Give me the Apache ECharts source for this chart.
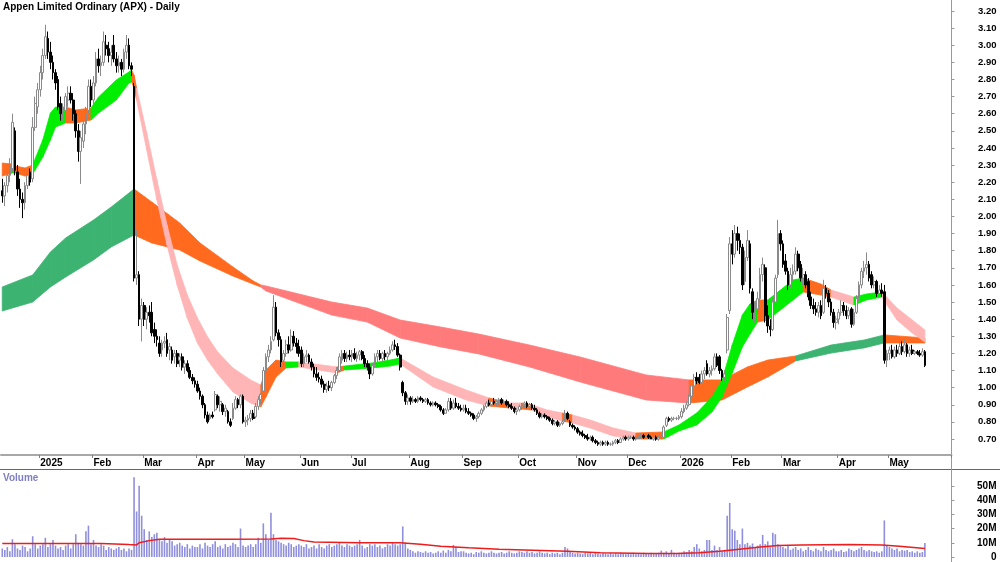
<!DOCTYPE html>
<html>
<head>
<meta charset="utf-8">
<script src="https://cdn.jsdelivr.net/npm/echarts@6/dist/echarts.min.js"></script>
<style>
  html, body { margin: 0; padding: 0; background: #fff; }
  #chart { width: 1000px; height: 562px; }
</style>
</head>
<body>
<div id="chart"></div>
<script>
// daily bars per month, [open, high, low, close]
const dec24 = [[2.15,2.22,2.08,2.12],[2.12,2.20,2.06,2.18],[2.18,2.28,2.14,2.24],[2.24,2.34,2.20,2.30],[2.28,2.60,2.26,2.55],[2.50,2.52,2.24,2.27],[2.26,2.30,2.12,2.16],[2.16,2.22,2.05,2.10],[2.10,2.14,1.99,2.08],[2.08,2.20,2.04,2.18],[2.18,2.28,2.16,2.24],[2.26,2.28,2.18,2.20],[2.22,2.58,2.20,2.52],[2.52,2.70,2.50,2.66],[2.64,2.78,2.60,2.74]];
const jan25 = [[2.74,2.88,2.70,2.84],[2.84,2.98,2.80,2.94],[2.94,3.12,2.92,3.05],[3.04,3.08,2.92,2.96],[2.96,3.02,2.86,2.90],[2.90,2.94,2.80,2.84],[2.84,2.86,2.74,2.78],[2.80,2.82,2.62,2.64],[2.66,2.70,2.56,2.60],[2.60,2.66,2.56,2.62],[2.62,2.72,2.60,2.70],[2.68,2.76,2.64,2.72],[2.72,2.76,2.66,2.68],[2.68,2.72,2.56,2.60],[2.60,2.62,2.46,2.50],[2.50,2.54,2.32,2.38],[2.38,2.50,2.19,2.46],[2.44,2.58,2.40,2.54],[2.54,2.64,2.48,2.60],[2.62,2.80,2.60,2.76],[2.76,2.80,2.64,2.68]];
const feb25 = [[2.68,2.82,2.64,2.78],[2.78,2.96,2.76,2.92],[2.92,2.98,2.84,2.88],[2.88,2.94,2.82,2.90],[2.90,3.08,2.88,3.02],[3.00,3.06,2.94,2.98],[2.98,3.02,2.90,2.94],[2.94,3.00,2.88,2.96],[3.00,3.06,2.90,2.92],[2.92,2.96,2.84,2.88],[2.88,2.94,2.84,2.90],[2.90,2.92,2.82,2.86],[2.86,2.98,2.84,2.96],[2.96,3.06,2.92,3.00],[3.00,3.04,2.86,2.88],[2.88,2.90,2.82,2.86],[2.76,2.78,1.62,1.64],[1.64,1.92,1.60,1.66],[1.66,1.68,1.36,1.40],[1.40,1.52,1.27,1.48]];
const mar25 = [[1.48,1.50,1.36,1.40],[1.40,1.47,1.34,1.44],[1.44,1.48,1.38,1.42],[1.44,1.50,1.30,1.32],[1.34,1.38,1.26,1.30],[1.30,1.34,1.24,1.28],[1.26,1.30,1.18,1.20],[1.22,1.28,1.18,1.26],[1.26,1.30,1.23,1.27],[1.28,1.32,1.18,1.20],[1.22,1.26,1.16,1.24],[1.22,1.24,1.14,1.16],[1.18,1.22,1.14,1.20],[1.20,1.22,1.12,1.14],[1.16,1.20,1.12,1.18],[1.18,1.20,1.10,1.12],[1.12,1.16,1.08,1.14],[1.14,1.16,1.09,1.10],[1.10,1.12,1.05,1.06],[1.06,1.08,1.02,1.04],[1.04,1.06,1.00,1.02]];
const apr25 = [[1.02,1.04,0.97,0.98],[0.98,1.00,0.93,0.95],[0.95,0.96,0.88,0.90],[0.90,0.91,0.82,0.84],[0.84,0.86,0.79,0.80],[0.82,0.85,0.81,0.84],[0.84,0.86,0.82,0.83],[0.87,0.98,0.86,0.96],[0.95,0.96,0.88,0.90],[0.90,0.95,0.86,0.92],[0.90,0.91,0.84,0.86],[0.86,0.90,0.83,0.88],[0.86,0.87,0.79,0.80],[0.80,0.82,0.77,0.78],[0.82,0.91,0.81,0.88],[0.88,0.95,0.87,0.93],[0.93,0.94,0.88,0.90],[0.90,0.96,0.88,0.95],[0.95,0.96,0.79,0.80]];
const may25 = [[0.80,0.83,0.77,0.81],[0.81,0.84,0.78,0.82],[0.82,0.87,0.80,0.85],[0.85,0.87,0.81,0.82],[0.83,0.91,0.82,0.89],[0.89,0.95,0.87,0.93],[0.93,0.97,0.90,0.96],[0.98,1.12,0.97,1.10],[1.10,1.20,1.08,1.18],[1.18,1.25,1.15,1.22],[1.22,1.30,1.20,1.27],[1.28,1.54,1.27,1.47],[1.47,1.50,1.30,1.32],[1.32,1.34,1.24,1.28],[1.28,1.30,1.12,1.15],[1.16,1.22,1.13,1.20],[1.20,1.28,1.18,1.25],[1.25,1.30,1.20,1.22],[1.22,1.34,1.21,1.30],[1.30,1.33,1.24,1.26],[1.26,1.29,1.20,1.24],[1.24,1.28,1.18,1.20]];
const jun25 = [[1.22,1.24,1.12,1.14],[1.14,1.20,1.12,1.18],[1.18,1.22,1.15,1.19],[1.19,1.20,1.14,1.15],[1.15,1.17,1.10,1.12],[1.12,1.14,1.06,1.08],[1.08,1.12,1.04,1.06],[1.06,1.09,1.03,1.05],[1.05,1.07,1.00,1.02],[1.02,1.04,0.97,0.99],[0.99,1.03,0.97,1.01],[1.01,1.04,0.98,1.00],[1.00,1.04,0.98,1.03],[1.03,1.08,1.02,1.07],[1.07,1.12,1.05,1.10],[1.10,1.20,1.09,1.18],[1.16,1.22,1.14,1.20],[1.20,1.22,1.15,1.17],[1.17,1.21,1.15,1.19],[1.19,1.22,1.16,1.18]];
const jul25 = [[1.18,1.22,1.15,1.20],[1.20,1.23,1.16,1.17],[1.17,1.21,1.15,1.19],[1.19,1.22,1.16,1.21],[1.21,1.22,1.16,1.17],[1.17,1.19,1.12,1.14],[1.14,1.16,1.10,1.12],[1.12,1.14,1.05,1.08],[1.08,1.14,1.07,1.13],[1.13,1.20,1.12,1.18],[1.18,1.22,1.15,1.20],[1.20,1.22,1.16,1.17],[1.17,1.21,1.15,1.20],[1.20,1.22,1.16,1.18],[1.18,1.21,1.16,1.20],[1.20,1.24,1.19,1.22],[1.22,1.27,1.21,1.25],[1.25,1.28,1.22,1.24],[1.24,1.26,1.18,1.19],[1.19,1.20,1.10,1.12],[1.03,1.04,0.95,0.97],[0.97,0.98,0.90,0.92],[0.92,0.96,0.90,0.94]];
const aug25 = [[0.94,0.95,0.90,0.92],[0.92,0.95,0.91,0.93],[0.93,0.94,0.91,0.92],[0.92,0.95,0.91,0.94],[0.94,0.95,0.92,0.93],[0.93,0.94,0.91,0.92],[0.92,0.94,0.91,0.93],[0.93,0.94,0.90,0.91],[0.91,0.92,0.89,0.90],[0.90,0.92,0.89,0.91],[0.91,0.92,0.89,0.90],[0.90,0.91,0.88,0.89],[0.89,0.90,0.86,0.87],[0.87,0.88,0.84,0.85],[0.85,0.88,0.85,0.87],[0.87,0.94,0.86,0.92],[0.92,0.94,0.87,0.88],[0.88,0.93,0.87,0.91],[0.91,0.94,0.88,0.89],[0.89,0.91,0.87,0.88],[0.88,0.90,0.86,0.87]];
const sep25 = [[0.87,0.90,0.86,0.88],[0.88,0.90,0.85,0.86],[0.86,0.88,0.84,0.85],[0.85,0.86,0.83,0.84],[0.84,0.85,0.81,0.82],[0.82,0.84,0.80,0.83],[0.83,0.86,0.82,0.85],[0.85,0.88,0.84,0.87],[0.87,0.90,0.86,0.89],[0.89,0.92,0.88,0.91],[0.91,0.93,0.89,0.90],[0.90,0.93,0.89,0.92],[0.92,0.94,0.90,0.91],[0.91,0.93,0.89,0.92],[0.92,0.94,0.90,0.93],[0.93,0.94,0.90,0.91],[0.91,0.93,0.89,0.92],[0.92,0.93,0.89,0.90],[0.90,0.92,0.88,0.89],[0.89,0.91,0.87,0.88],[0.88,0.89,0.85,0.86],[0.86,0.88,0.84,0.87]];
const oct25 = [[0.87,0.90,0.86,0.89],[0.89,0.91,0.87,0.90],[0.90,0.92,0.88,0.91],[0.91,0.92,0.88,0.89],[0.89,0.91,0.87,0.90],[0.90,0.91,0.87,0.88],[0.88,0.90,0.86,0.87],[0.87,0.88,0.84,0.85],[0.85,0.86,0.82,0.83],[0.83,0.85,0.82,0.84],[0.84,0.85,0.82,0.83],[0.83,0.84,0.81,0.82],[0.82,0.83,0.80,0.81],[0.81,0.82,0.78,0.79],[0.79,0.81,0.78,0.80],[0.80,0.81,0.77,0.78],[0.78,0.80,0.77,0.79],[0.79,0.81,0.78,0.80],[0.80,0.87,0.80,0.85],[0.85,0.86,0.81,0.82],[0.80,0.81,0.77,0.78],[0.78,0.79,0.76,0.77],[0.77,0.78,0.75,0.76]];
const nov25 = [[0.76,0.77,0.73,0.74],[0.74,0.75,0.72,0.73],[0.73,0.75,0.71,0.72],[0.72,0.73,0.70,0.71],[0.71,0.73,0.69,0.70],[0.70,0.72,0.69,0.71],[0.71,0.72,0.68,0.69],[0.69,0.70,0.67,0.68],[0.68,0.69,0.66,0.67],[0.67,0.69,0.66,0.68],[0.68,0.69,0.66,0.67],[0.67,0.69,0.66,0.68],[0.68,0.69,0.66,0.67],[0.67,0.68,0.66,0.67],[0.67,0.69,0.66,0.68],[0.68,0.70,0.67,0.69],[0.69,0.70,0.67,0.68],[0.68,0.71,0.68,0.70],[0.70,0.72,0.69,0.71],[0.71,0.72,0.69,0.70]];
const dec25 = [[0.70,0.72,0.69,0.71],[0.71,0.72,0.70,0.71],[0.71,0.72,0.69,0.70],[0.70,0.72,0.69,0.71],[0.71,0.72,0.70,0.71],[0.71,0.73,0.70,0.72],[0.72,0.73,0.70,0.71],[0.71,0.73,0.70,0.72],[0.72,0.73,0.70,0.71],[0.71,0.72,0.70,0.70],[0.70,0.72,0.69,0.71],[0.71,0.72,0.69,0.70],[0.70,0.72,0.69,0.71],[0.71,0.72,0.70,0.71],[0.71,0.78,0.71,0.77],[0.78,0.83,0.77,0.82],[0.82,0.83,0.80,0.81],[0.81,0.83,0.80,0.82],[0.82,0.83,0.81,0.82],[0.82,0.83,0.81,0.82],[0.82,0.84,0.81,0.83]];
const jan26 = [[0.83,0.88,0.82,0.86],[0.86,0.90,0.85,0.88],[0.88,0.92,0.87,0.90],[0.90,0.96,0.89,0.95],[0.95,1.03,0.94,1.01],[1.01,1.08,1.00,1.06],[1.06,1.09,1.02,1.04],[1.06,1.08,1.02,1.03],[1.03,1.10,1.02,1.08],[1.08,1.12,1.05,1.10],[1.14,1.16,1.07,1.08],[1.08,1.12,1.06,1.10],[1.10,1.13,1.07,1.11],[1.11,1.20,1.10,1.18],[1.18,1.20,1.12,1.13],[1.18,1.19,1.08,1.10],[1.10,1.11,1.04,1.06],[1.06,1.10,1.04,1.08],[1.22,1.43,1.20,1.41],[1.45,1.88,1.43,1.84]];
const feb26 = [[1.84,1.92,1.72,1.78],[1.78,1.95,1.76,1.90],[1.90,1.94,1.80,1.86],[1.86,1.90,1.78,1.82],[1.82,1.84,1.57,1.60],[1.62,1.80,1.60,1.76],[1.76,1.92,1.74,1.86],[1.84,1.86,1.55,1.58],[1.56,1.58,1.40,1.44],[1.44,1.50,1.38,1.46],[1.46,1.56,1.43,1.52],[1.52,1.70,1.50,1.66],[1.66,1.76,1.62,1.72],[1.70,1.72,1.38,1.42],[1.42,1.48,1.32,1.36],[1.36,1.40,1.30,1.34],[1.34,1.52,1.33,1.50],[1.50,1.66,1.48,1.64],[1.66,1.98,1.64,1.90],[1.90,1.92,1.80,1.84]];
const mar26 = [[1.84,1.86,1.70,1.72],[1.74,1.78,1.66,1.68],[1.68,1.70,1.57,1.60],[1.60,1.70,1.58,1.66],[1.66,1.72,1.62,1.68],[1.68,1.82,1.66,1.78],[1.78,1.80,1.68,1.70],[1.72,1.74,1.62,1.64],[1.64,1.70,1.60,1.66],[1.66,1.68,1.58,1.60],[1.62,1.64,1.51,1.53],[1.53,1.56,1.46,1.48],[1.48,1.52,1.43,1.46],[1.46,1.50,1.42,1.44],[1.44,1.50,1.41,1.48],[1.48,1.51,1.40,1.42],[1.44,1.63,1.43,1.58],[1.58,1.60,1.52,1.55],[1.55,1.57,1.47,1.50],[1.50,1.52,1.42,1.44],[1.44,1.46,1.35,1.38],[1.38,1.42,1.34,1.40]];
const apr26 = [[1.40,1.46,1.37,1.44],[1.44,1.51,1.42,1.48],[1.48,1.50,1.42,1.45],[1.45,1.48,1.40,1.42],[1.42,1.47,1.40,1.45],[1.46,1.47,1.35,1.37],[1.37,1.46,1.36,1.44],[1.44,1.54,1.43,1.52],[1.52,1.62,1.50,1.60],[1.60,1.70,1.58,1.68],[1.68,1.74,1.64,1.70],[1.70,1.79,1.66,1.72],[1.72,1.74,1.62,1.64],[1.66,1.68,1.58,1.60],[1.60,1.65,1.58,1.62],[1.62,1.63,1.53,1.55],[1.55,1.60,1.53,1.57],[1.57,1.61,1.53,1.55],[1.56,1.60,1.14,1.16],[1.16,1.22,1.12,1.20]];
const may26 = [[1.20,1.24,1.16,1.22],[1.22,1.25,1.17,1.18],[1.18,1.24,1.17,1.22],[1.22,1.25,1.18,1.20],[1.20,1.26,1.19,1.24],[1.24,1.27,1.19,1.21],[1.21,1.28,1.20,1.25],[1.25,1.26,1.18,1.20],[1.20,1.24,1.18,1.22],[1.22,1.25,1.19,1.20],[1.20,1.22,1.19,1.21],[1.21,1.22,1.19,1.20],[1.20,1.22,1.18,1.19],[1.19,1.23,1.18,1.21],[1.21,1.22,1.12,1.13]];

const monthBars = [dec24, jan25, feb25, mar25, apr25, may25, jun25, jul25, aug25, sep25, oct25, nov25, dec25, jan26, feb26, mar26, apr26, may26];
const monthNames = ['', '2025', 'Feb', 'Mar', 'Apr', 'May', 'Jun', 'Jul', 'Aug', 'Sep', 'Oct', 'Nov', 'Dec', '2026', 'Feb', 'Mar', 'Apr', 'May'];

// volume per month, millions of shares
const volDec24 = [6, 5, 7, 4, 12.5, 9, 6, 5, 8, 7, 4, 6, 14.6, 9, 6];
const volJan25 = [8, 9, 13.5, 7, 9, 12, 8, 6, 7, 5, 8, 9, 6, 9, 16, 10, 9, 8, 18, 22, 9];
const volFeb25 = [12, 8, 7, 9, 8, 5, 7, 6, 5, 6, 7, 5, 6, 4, 6, 5, 56, 32, 50, 29];
const volMar25 = [19.5, 12, 18, 14, 16, 17, 12, 11, 14, 10, 12, 11, 8, 9, 10, 8, 7, 9, 6, 8, 7];
const volApr25 = [7, 9, 6, 10, 8, 7, 9, 11, 7, 8, 6, 9, 7, 8, 10, 9, 7, 20, 8];
const volMay25 = [7, 8, 9, 7, 9, 13.5, 10, 23.6, 16, 12, 31, 16, 12, 11, 10, 9, 8, 10, 9, 7, 8, 9];
const volJun25 = [8, 7, 9, 6, 7, 8, 6, 9, 7, 6, 8, 9, 7, 8, 9, 10, 8, 7, 9, 8];
const volJul25 = [7, 8, 9, 12, 8, 6, 7, 9, 8, 9, 7, 8, 6, 7, 9, 8, 10, 9, 8, 9, 21.5, 10, 6];
const volAug25 = [5, 4, 3, 4, 3.5, 3, 4, 3, 3.5, 2.5, 3, 4, 3, 4.5, 3, 5, 4, 8.5, 7, 3.5, 4];
const volSep25 = [4, 3, 2.5, 3, 2, 3.5, 3, 4, 3, 2.5, 3, 4, 3, 2.5, 3, 3.5, 2.5, 3, 4, 3, 2.5, 3];
const volOct25 = [4, 3.5, 3, 4, 3, 3.5, 2.5, 3, 4, 3, 2.5, 3, 2, 3, 2.5, 3, 2, 3, 7, 6, 4, 3, 2.5];
const volNov25 = [3, 2.5, 2, 3, 2.5, 3.5, 2, 3, 2.5, 2, 3, 2.5, 2, 3, 2, 2.5, 2, 3, 2.5, 2];
const volDec25 = [2.5, 2, 3, 2, 2.5, 2, 3, 2.5, 2, 3, 2, 2.5, 3, 4.5, 3, 4, 2.5, 5, 3, 2, 3];
const volJan26 = [3, 4, 3.5, 5, 4, 7, 9, 6, 4, 5, 12, 12, 5, 8, 5, 7, 4, 5, 29, 38];
const volFeb26 = [19.5, 18.5, 12, 9, 20, 9, 10, 8, 9.5, 7, 8, 9, 15.5, 9, 11, 7, 17, 16, 9, 8];
const volMar26 = [7, 6, 8, 5, 6, 7, 5, 6, 4, 5, 7, 5, 4, 6, 5, 4, 7, 5, 4, 5, 6, 4];
const volApr26 = [4, 5, 3.5, 4, 6, 5, 4, 5, 6, 7, 5, 4, 5, 4, 3.5, 4, 3, 4, 25.7, 8];
const volMay26 = [7, 6, 5, 6, 4, 5, 4.5, 5, 3.5, 4, 3, 4, 3, 3.5, 9.8];

// trend ribbons: [bar index, upper, lower, state]
const shortRibbon = [
  [0, 2.312, 2.236, 'turn'], [4, 2.306, 2.254, 'up'], [5, 2.295, 2.254, 'turn'], [9, 2.283, 2.236, 'turn'],
  [12, 2.301, 2.248, 'up'], [16, 2.447, 2.347, 'up'], [19, 2.604, 2.447, 'up'], [21, 2.639, 2.522, 'up'],
  [25, 2.639, 2.546, 'turn'], [29, 2.622, 2.546, 'turn'], [35, 2.633, 2.563, 'up'], [38, 2.698, 2.604, 'up'],
  [45, 2.797, 2.680, 'up'], [50, 2.844, 2.780, 'up'], [51, 2.855, 2.785, 'turn'], [52, 2.826, 2.750, 'turn'],
  [53, 2.750, 2.680, 'down'], [57, 2.487, 2.388, 'down'], [61, 2.213, 2.096, 'down'], [65, 1.950, 1.833, 'down'],
  [69, 1.716, 1.600, 'down'], [73, 1.541, 1.407, 'down'], [77, 1.407, 1.261, 'down'], [81, 1.296, 1.161, 'down'],
  [85, 1.208, 1.080, 'down'], [91, 1.115, 0.975, 'down'], [98, 1.045, 0.910, 'down'], [102, 1.015, 0.887, 'turn'],
  [104, 1.103, 0.945, 'turn'], [108, 1.161, 1.062, 'turn'], [112, 1.150, 1.115, 'up'], [117, 1.150, 1.121, 'down'],
  [132, 1.121, 1.086, 'turn'], [135, 1.126, 1.103, 'up'], [146, 1.144, 1.115, 'up'], [153, 1.161, 1.126, 'up'],
  [157, 1.173, 1.138, 'down'], [170, 1.062, 1.004, 'down'], [183, 0.986, 0.928, 'down'], [192, 0.940, 0.893, 'turn'],
  [200, 0.910, 0.881, 'down'], [205, 0.910, 0.875, 'turn'], [209, 0.899, 0.869, 'down'], [215, 0.869, 0.829, 'down'],
  [221, 0.852, 0.805, 'turn'], [225, 0.840, 0.794, 'down'], [232, 0.811, 0.764, 'down'], [241, 0.764, 0.718, 'down'],
  [248, 0.741, 0.706, 'down'], [250, 0.735, 0.700, 'turn'], [261, 0.741, 0.700, 'up'], [267, 0.782, 0.747, 'up'],
  [274, 0.852, 0.782, 'up'], [280, 0.945, 0.858, 'up'], [284, 1.045, 0.945, 'up'], [288, 1.249, 1.086, 'up'],
  [292, 1.424, 1.238, 'up'], [295, 1.489, 1.313, 'up'], [298, 1.512, 1.383, 'turn'], [302, 1.512, 1.395, 'up'],
  [307, 1.570, 1.454, 'up'], [312, 1.629, 1.512, 'up'], [316, 1.640, 1.559, 'turn'], [323, 1.605, 1.541, 'turn'],
  [327, 1.570, 1.529, 'down'], [336, 1.529, 1.483, 'up'], [341, 1.547, 1.512, 'up'], [347, 1.559, 1.529, 'down'],
  [353, 1.465, 1.395, 'down'], [359, 1.395, 1.319, 'down'], [364, 1.337, 1.267, 'down']
];
const longRibbon = [
  [0, 1.588, 1.448, 'up'], [12, 1.658, 1.500, 'up'], [19, 1.792, 1.588, 'up'], [25, 1.874, 1.646, 'up'],
  [36, 1.979, 1.746, 'up'], [43, 2.055, 1.822, 'up'], [52, 2.160, 1.892, 'turn'], [59, 2.084, 1.845, 'turn'],
  [70, 1.962, 1.804, 'turn'], [78, 1.845, 1.740, 'turn'], [91, 1.705, 1.652, 'turn'], [99, 1.623, 1.605, 'turn'],
  [102, 1.600, 1.588, 'down'], [104, 1.594, 1.565, 'down'], [117, 1.547, 1.494, 'down'], [130, 1.500, 1.424, 'down'],
  [144, 1.465, 1.383, 'down'], [157, 1.395, 1.290, 'down'], [173, 1.354, 1.238, 'down'], [188, 1.313, 1.197, 'down'],
  [208, 1.249, 1.121, 'down'], [228, 1.179, 1.033, 'down'], [254, 1.074, 0.928, 'down'], [271, 1.045, 0.910, 'turn'],
  [284, 1.045, 0.928, 'turn'], [294, 1.121, 1.004, 'turn'], [302, 1.161, 1.062, 'turn'], [313, 1.185, 1.156, 'up'],
  [327, 1.249, 1.202, 'up'], [340, 1.278, 1.232, 'up'], [348, 1.308, 1.261, 'turn'], [364, 1.290, 1.261, 'turn']
];

// volume average line: [bar index, millions]
const volAvg = [[0, 9.5], [15, 9.5], [39, 9.5], [50, 8.7], [53, 8.5], [54, 10], [58, 11.5], [62, 12.5], [90, 12.5],
  [106, 12.6], [110, 13.2], [115, 13], [119, 11.5], [123, 10.5], [141, 10], [157, 10], [165, 9], [173, 7.5],
  [184, 6.5], [196, 5.5], [223, 4], [236, 3], [255, 2.5], [266, 2.5], [275, 3], [283, 4], [288, 5], [299, 7],
  [306, 8], [315, 8.5], [334, 8.8], [347, 8.5], [354, 7.5], [364, 6]];

const priceTicks = [0.7, 0.8, 0.9, 1.0, 1.1, 1.2, 1.3, 1.4, 1.5, 1.6, 1.7, 1.8, 1.9, 2.0, 2.1, 2.2, 2.3, 2.4, 2.5, 2.6, 2.7, 2.8, 2.9, 3.0, 3.1, 3.2];
const volTicks = [0, 10, 20, 30, 40, 50];

const SLOTS = 375; // bars plus empty space on the right
const FONT = "'Liberation Sans', Arial, sans-serif";

const bars = [].concat(...monthBars);
const volumes = [].concat(volDec24, volJan25, volFeb25, volMar25, volApr25, volMay25, volJun25, volJul25,
  volAug25, volSep25, volOct25, volNov25, volDec25, volJan26, volFeb26, volMar26, volApr26, volMay26);

const cats = [];
for (let i = 0; i < SLOTS; i++) cats.push(String(i));

// month start index -> label
const monthLabel = {};
let start = 0;
monthBars.forEach((m, k) => {
  if (monthNames[k]) monthLabel[start] = monthNames[k];
  start += m.length;
});
const isMonthStart = (i) => monthLabel[i] !== undefined;

const shortColors = { up: '#00ee00', turn: '#ff6a1f', down: '#ffb5b5' };
const longColors = { up: '#3cb371', turn: '#ff6a1f', down: '#ff7b7b' };

function ribbonSeries(samples, colors, z) {
  return {
    type: 'custom',
    xAxisIndex: 0,
    yAxisIndex: 0,
    z: z,
    silent: true,
    clip: true,
    data: samples.slice(0, -1).map((s, k) => [s[0], s[1], samples[k + 1][0], s[2]]),
    encode: { x: [0, 2], y: [1, 3] },
    renderItem: function (params, api) {
      const a = samples[params.dataIndex];
      const b = samples[params.dataIndex + 1];
      const pts = [
        api.coord([a[0], a[1]]), api.coord([b[0], b[1]]),
        api.coord([b[0], b[2]]), api.coord([a[0], a[2]])
      ];
      const c = colors[a[3]];
      return { type: 'polygon', shape: { points: pts }, style: { fill: c, stroke: c, lineWidth: 0.8 } };
    }
  };
}

const chart = echarts.init(document.getElementById('chart'), null, { renderer: 'canvas' });

chart.setOption({
  animation: false,
  backgroundColor: '#ffffff',
  grid: [
    { left: 1, right: 48.5, top: 0, height: 455 },
    { left: 1, right: 48.5, top: 470, height: 88 }
  ],
  xAxis: [
    {
      type: 'category', gridIndex: 0, data: cats, boundaryGap: true,
      axisLine: { show: true, lineStyle: { color: '#a8a8a8', width: 2 } },
      axisTick: { show: true, interval: (i) => isMonthStart(i), length: 3, lineStyle: { color: '#808080' } },
      axisLabel: {
        interval: (i) => isMonthStart(i),
        formatter: (v) => monthLabel[+v] || '',
        align: 'left', margin: 3,
        fontSize: 10, fontWeight: 'bold', fontFamily: FONT, color: '#000'
      },
      splitLine: { show: false }
    },
    {
      type: 'category', gridIndex: 1, data: cats, boundaryGap: true,
      axisLine: { show: false }, axisTick: { show: false }, axisLabel: { show: false }, splitLine: { show: false }
    }
  ],
  yAxis: [
    {
      type: 'value', gridIndex: 0, position: 'right', min: 0.6065, max: 3.2643,
      axisLine: { show: true, lineStyle: { color: '#999' } },
      axisTick: { show: true, customValues: priceTicks, length: 3, lineStyle: { color: '#999' } },
      axisLabel: {
        customValues: priceTicks, formatter: (v) => v.toFixed(2),
        align: 'right', margin: 45,
        fontSize: 9.5, fontWeight: 'bold', fontFamily: FONT, color: '#000'
      },
      splitLine: { show: false }
    },
    {
      type: 'value', gridIndex: 1, position: 'right', min: 0, max: 61.1,
      axisLine: { show: true, lineStyle: { color: '#999' } },
      axisTick: { show: true, customValues: volTicks, length: 3, lineStyle: { color: '#999' } },
      axisLabel: {
        customValues: volTicks, formatter: (v) => (v === 0 ? '0' : v + 'M'),
        align: 'right', margin: 45,
        fontSize: 10, fontWeight: 'bold', fontFamily: FONT, color: '#000'
      },
      splitLine: { show: false }
    }
  ],
  series: [
    ribbonSeries(longRibbon, longColors, 1),
    ribbonSeries(shortRibbon, shortColors, 2),
    {
      type: 'candlestick',
      xAxisIndex: 0, yAxisIndex: 0, z: 5,
      barWidth: 2.2,
      data: bars.map(b => [b[0], b[3], b[2], b[1]]),
      itemStyle: { color: '#ffffff', color0: '#000000', borderColor: '#8a8a8a', borderColor0: '#000000', borderWidth: 1 }
    },
    {
      type: 'bar',
      xAxisIndex: 1, yAxisIndex: 1,
      barWidth: 1.6,
      data: volumes,
      itemStyle: { color: '#8f8fdc' }
    },
    {
      type: 'line',
      xAxisIndex: 1, yAxisIndex: 1, z: 4,
      data: volAvg,
      showSymbol: false,
      lineStyle: { color: '#ee1c1c', width: 1.5 }
    }
  ],
  graphic: [
    { type: 'text', left: 3, top: 2, style: { text: 'Appen Limited Ordinary (APX) - Daily', font: 'bold 10px ' + FONT, fill: '#000' } },
    { type: 'text', left: 3, top: 473, style: { text: 'Volume', font: 'bold 10px ' + FONT, fill: '#7f7fc4' } },
    { type: 'line', shape: { x1: 0, y1: 469.5, x2: 1000, y2: 469.5 }, style: { stroke: '#666', lineWidth: 1 } },
    { type: 'line', shape: { x1: 951.5, y1: 0, x2: 951.5, y2: 562 }, style: { stroke: '#999', lineWidth: 1 } }
  ]
});
</script>
</body>
</html>
